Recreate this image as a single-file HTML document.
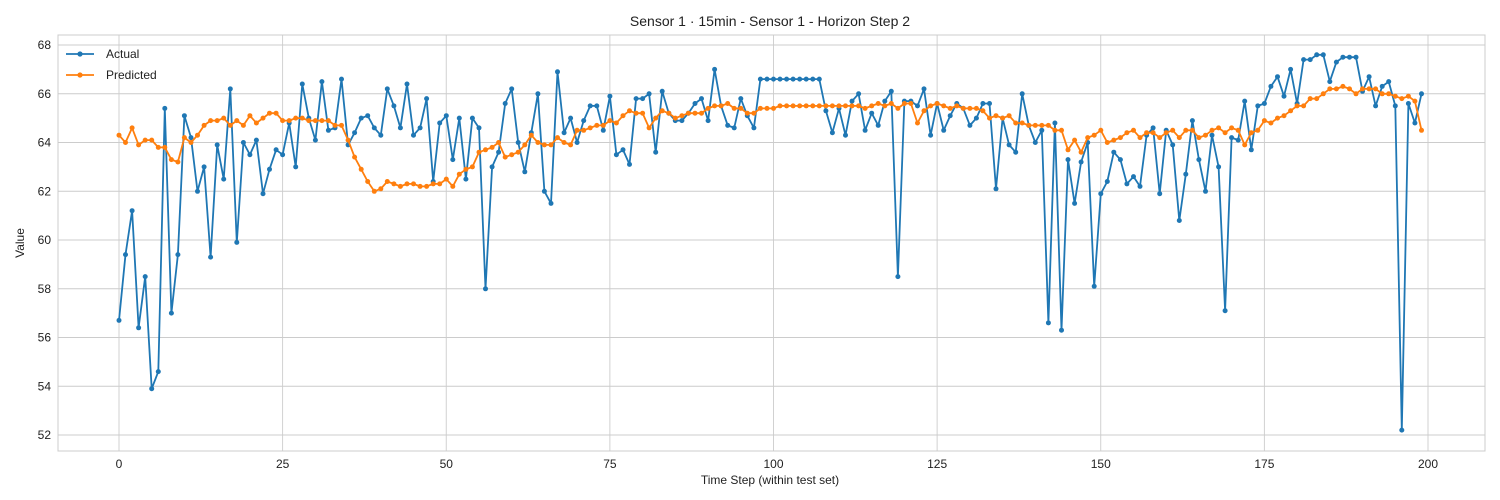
<!DOCTYPE html>
<html><head><meta charset="utf-8"><style>
html,body{margin:0;padding:0;background:#fff;}
svg{display:block;font-family:"Liberation Sans","DejaVu Sans",sans-serif;}
</style></head><body>
<svg id="chart" width="1500" height="500" xmlns="http://www.w3.org/2000/svg">
<rect width="1500" height="500" fill="#fff"/>
<text x="770" y="26" font-size="14" text-anchor="middle" fill="#222">Sensor 1 · 15min - Sensor 1 - Horizon Step 2</text>
<g id="grid"></g>
<rect x="58" y="35" width="1427" height="416" fill="none" stroke="#ccc" stroke-width="1"/>
<g id="ticks"></g>
<g id="series"></g>
<text x="770" y="484" font-size="12" text-anchor="middle" fill="#222">Time Step (within test set)</text>
<text x="24" y="243" font-size="12" text-anchor="middle" fill="#222" transform="rotate(-90 24 243)">Value</text>
<g>
<line x1="66" y1="54" x2="94" y2="54" stroke="#1f77b4" stroke-width="1.8"/><circle cx="80" cy="54" r="2.6" fill="#1f77b4"/>
<text x="106" y="58" font-size="12" fill="#222">Actual</text>
<line x1="66" y1="75" x2="94" y2="75" stroke="#ff7f0e" stroke-width="1.8"/><circle cx="80" cy="75" r="2.6" fill="#ff7f0e"/>
<text x="106" y="79" font-size="12" fill="#222">Predicted</text>
</g>
</svg>
<script>
const xTicks = [0,25,50,75,100,125,150,175,200];
const yTicks = [52,54,56,58,60,62,64,66,68];
const actual = [56.7,59.4,61.2,56.4,58.5,53.9,54.6,65.4,57.0,59.4,65.1,64.2,62.0,63.0,59.3,63.9,62.5,66.2,59.9,64.0,63.5,64.1,61.9,62.9,63.7,63.5,64.8,63.0,66.4,65.0,64.1,66.5,64.5,64.6,66.6,63.9,64.4,65.0,65.1,64.6,64.3,66.2,65.5,64.6,66.4,64.3,64.6,65.8,62.4,64.8,65.1,63.3,65.0,62.5,65.0,64.6,58.0,63.0,63.6,65.6,66.2,64.0,62.8,64.4,66.0,62.0,61.5,66.9,64.4,65.0,64.0,64.9,65.5,65.5,64.5,65.9,63.5,63.7,63.1,65.8,65.8,66.0,63.6,66.1,65.2,64.9,64.9,65.2,65.6,65.8,64.9,67.0,65.5,64.7,64.6,65.8,65.1,64.6,66.6,66.6,66.6,66.6,66.6,66.6,66.6,66.6,66.6,66.6,65.3,64.4,65.4,64.3,65.7,66.0,64.5,65.2,64.7,65.7,66.1,58.5,65.7,65.7,65.5,66.2,64.3,65.6,64.5,65.1,65.6,65.4,64.7,65.0,65.6,65.6,62.1,65.0,63.9,63.6,66.0,64.7,64.0,64.5,56.6,64.8,56.3,63.3,61.5,63.2,64.0,58.1,61.9,62.4,63.6,63.3,62.3,62.6,62.2,64.3,64.6,61.9,64.5,63.9,60.8,62.7,64.9,63.3,62.0,64.3,63.0,57.1,64.2,64.1,65.7,63.7,65.5,65.6,66.3,66.7,65.9,67.0,65.6,67.4,67.4,67.6,67.6,66.5,67.3,67.5,67.5,67.5,66.1,66.7,65.5,66.3,66.5,65.5,52.2,65.6,64.8,66.0];
const predicted = [64.3,64.0,64.6,63.9,64.1,64.1,63.8,63.8,63.3,63.2,64.2,64.0,64.3,64.7,64.9,64.9,65.0,64.7,64.9,64.7,65.1,64.8,65.0,65.2,65.2,64.9,64.9,65.0,65.0,64.9,64.9,64.9,64.9,64.7,64.7,64.1,63.4,62.9,62.4,62.0,62.1,62.4,62.3,62.2,62.3,62.3,62.2,62.2,62.3,62.3,62.5,62.2,62.7,62.9,63.0,63.6,63.7,63.8,64.0,63.4,63.5,63.6,63.9,64.3,64.0,63.9,63.9,64.2,64.0,63.9,64.5,64.5,64.6,64.7,64.7,64.9,64.8,65.1,65.3,65.2,65.2,64.6,65.0,65.3,65.2,65.0,65.1,65.2,65.2,65.2,65.4,65.5,65.5,65.6,65.4,65.4,65.2,65.2,65.4,65.4,65.4,65.5,65.5,65.5,65.5,65.5,65.5,65.5,65.5,65.5,65.5,65.5,65.5,65.5,65.4,65.5,65.6,65.5,65.6,65.4,65.6,65.6,64.8,65.3,65.5,65.6,65.5,65.4,65.5,65.4,65.4,65.4,65.3,65.0,65.1,65.0,65.1,64.8,64.8,64.7,64.7,64.7,64.7,64.5,64.5,63.7,64.1,63.6,64.2,64.3,64.5,64.0,64.1,64.2,64.4,64.5,64.2,64.4,64.4,64.2,64.4,64.5,64.2,64.5,64.5,64.2,64.3,64.5,64.6,64.4,64.6,64.5,63.9,64.4,64.5,64.9,64.8,65.0,65.1,65.3,65.5,65.5,65.8,65.8,66.0,66.2,66.2,66.3,66.2,66.0,66.2,66.2,66.2,66.0,66.0,65.9,65.8,65.9,65.7,64.5];

const NS = "http://www.w3.org/2000/svg";
const X = i => 119 + (i / 200) * (1428 - 119);
const Y = v => 435 - ((v - 52) / 16) * (435 - 45);

const grid = document.getElementById('grid');
const ticks = document.getElementById('ticks');
xTicks.forEach(t => {
  const l = document.createElementNS(NS, 'line');
  
  
  l.setAttribute('x1', X(t)); l.setAttribute('x2', X(t));
  l.setAttribute('y1', 35); l.setAttribute('y2', 451);
  l.setAttribute('stroke', '#ccc'); l.setAttribute('stroke-width', '0.9');
  grid.appendChild(l);
  const tx = document.createElementNS(NS, 'text');
  
  
  tx.setAttribute('x', X(t)); tx.setAttribute('y', 468);
  tx.setAttribute('font-size', '12'); tx.setAttribute('text-anchor', 'middle'); tx.setAttribute('fill', '#222');
  tx.textContent = t;
  ticks.appendChild(tx);
});
yTicks.forEach(t => {
  const l = document.createElementNS(NS, 'line');
  
  
  l.setAttribute('x1', 58); l.setAttribute('x2', 1485);
  l.setAttribute('y1', Y(t)); l.setAttribute('y2', Y(t));
  l.setAttribute('stroke', '#ccc'); l.setAttribute('stroke-width', '0.9');
  grid.appendChild(l);
  const tx = document.createElementNS(NS, 'text');
  
  
  tx.setAttribute('x', 51); tx.setAttribute('y', Y(t) + 4);
  tx.setAttribute('font-size', '12'); tx.setAttribute('text-anchor', 'end'); tx.setAttribute('fill', '#222');
  tx.textContent = t;
  ticks.appendChild(tx);
});

const series = document.getElementById('series');
function draw(vals, color, name) {
  const g = document.createElementNS(NS, 'g');
  
  
  const p = document.createElementNS(NS, 'polyline');
  
  
  p.setAttribute('points', vals.map((v, i) => X(i).toFixed(1) + ',' + Y(v).toFixed(1)).join(' '));
  p.setAttribute('fill', 'none'); p.setAttribute('stroke', color);
  p.setAttribute('stroke-width', '1.8'); p.setAttribute('stroke-linejoin', 'round');
  g.appendChild(p);
  vals.forEach((v, i) => {
    const c = document.createElementNS(NS, 'circle');
    
    
    c.setAttribute('cx', X(i).toFixed(1)); c.setAttribute('cy', Y(v).toFixed(1));
    c.setAttribute('r', '2.5'); c.setAttribute('fill', color);
    g.appendChild(c);
  });
  series.appendChild(g);
}
draw(actual, '#1f77b4', 'actual');
draw(predicted, '#ff7f0e', 'predicted');
</script>
</body></html>
